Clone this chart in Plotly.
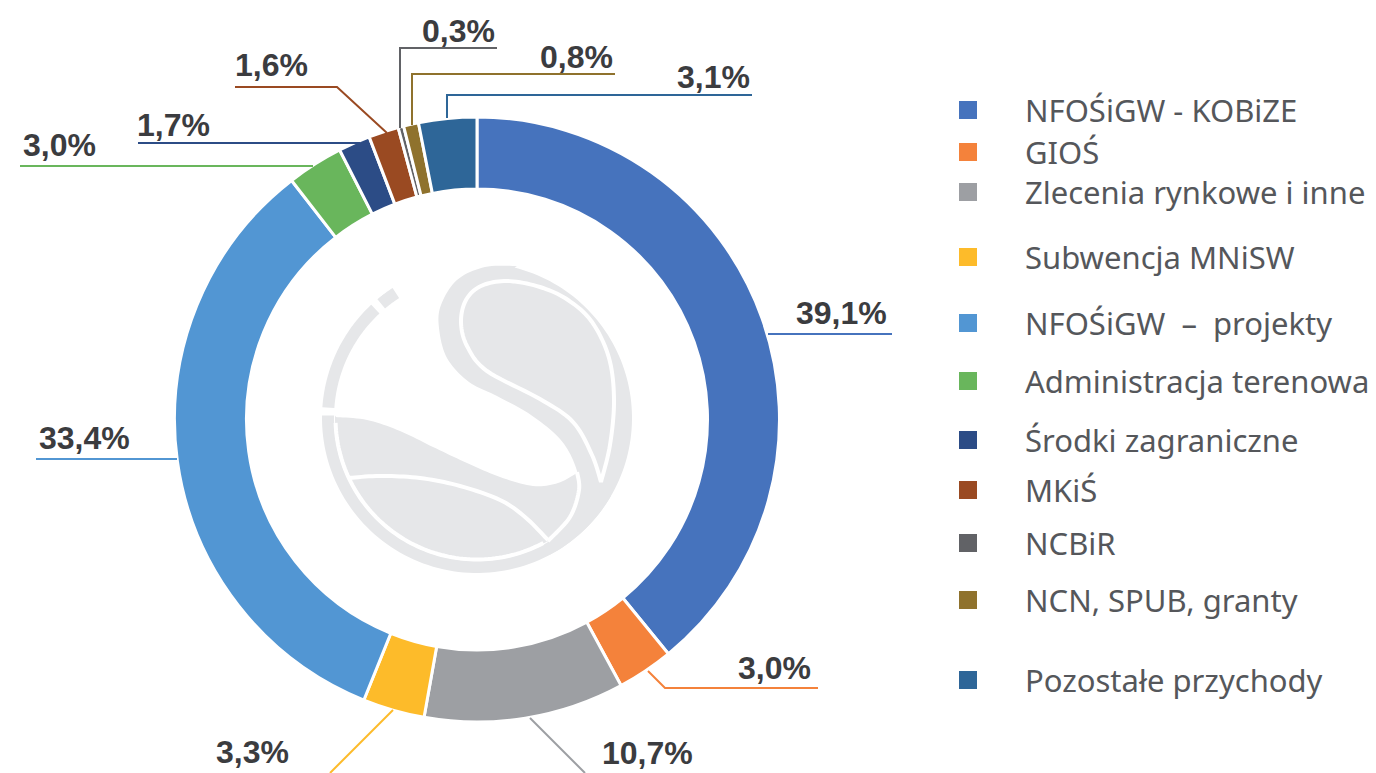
import numpy as np
import plotly.graph_objects as go

# ---------------- data ----------------
labels = ["NFOŚiGW - KOBiZE", "GIOŚ", "Zlecenia rynkowe i inne", "Subwencja MNiSW",
          "NFOŚiGW\u00a0\u00a0–\u00a0\u00a0projekty", "Administracja terenowa", "Środki zagraniczne",
          "MKiŚ", "NCBiR", "NCN, SPUB, granty", "Pozostałe przychody"]
values = [39.1, 3.0, 10.7, 3.3, 33.4, 3.0, 1.7, 1.6, 0.3, 0.8, 3.1]
colors = ["#4673BD", "#F4823B", "#9D9FA3", "#FDBB2A", "#5296D3", "#69B65C",
          "#2C4C86", "#9A4A22", "#616266", "#8F722D", "#2E6698"]

# ---------------- layout helpers (pixel positions) ----------------
W, H = 1376, 773
legend_y = [110, 152, 192, 257, 323, 381, 440, 490, 543, 600, 680]
# label anchor: (x, y, xanchor)
label_pos = [(889, 313, "right"), (813, 668, "right"), (600, 753, "left"), (214, 752, "left"),
             (37, 438, "left"), (21, 145, "left"), (135, 125, "left"), (233, 65, "left"),
             (497, 31, "right"), (615, 57, "right"), (752, 77, "right")]
leaders = [
    [(768, 334), (892, 334)],
    [(648, 671), (665, 688), (818, 688)],
    [(530, 718), (585, 773)],
    [(393, 710), (330, 773)],
    [(177, 459), (36, 459)],
    [(313, 166), (20, 166)],
    [(360, 143), (138, 143)],
    [(387, 133), (337, 87), (235, 87)],
    [(400, 128), (400, 48), (497, 48)],
    [(412, 125), (412, 74), (615, 74)],
    [(447, 118), (447, 95), (752, 95)],
]


def px(x, y):
    return f"{x / W:.5f},{1 - y / H:.5f}"


def path(pts, close=False):
    s = "M " + " L ".join(px(x, y) for x, y in pts)
    return s + (" Z" if close else "")


def smooth(pts, n=10):
    out = []
    for i in range(len(pts) - 1):
        p0 = np.array(pts[max(i - 1, 0)], float)
        p1 = np.array(pts[i], float)
        p2 = np.array(pts[i + 1], float)
        p3 = np.array(pts[min(i + 2, len(pts) - 1)], float)
        for k in range(n):
            t = k / n
            q = 0.5 * ((2 * p1) + (-p0 + p2) * t + (2 * p0 - 5 * p1 + 4 * p2 - p3) * t ** 2
                       + (-p0 + 3 * p1 - 3 * p2 + p3) * t ** 3)
            out.append(tuple(q))
    out.append(tuple(pts[-1]))
    return out


CX, CY = 477, 418


def arc(r, a0, a1, n=80):
    a = np.radians(np.linspace(a0, a1, n))
    return [(CX + r * np.cos(t), CY - r * np.sin(t)) for t in a]


LOGO = "#E6E7E9"
shapes = []

# ---- watermark logo ----
lobe_left = smooth([(517, 266), (485, 267), (457, 280), (441, 305), (439, 328), (447, 358),
                    (469, 382), (497, 396), (531, 415), (560, 439), (575, 465), (579, 490),
                    (570, 517), (551, 538)])
lobe = arc(155, -62, 76) + lobe_left
shapes.append(dict(type="path", xref="paper", yref="paper", path=path(lobe, True),
                   fillcolor=LOGO, line=dict(width=0), layer="above"))

wave_top = smooth([(336, 417), (367, 420), (400, 431), (433, 447), (467, 463), (500, 477),
                   (533, 486), (558, 483), (577, 473)])
wave_edge = smooth([(577, 473), (579, 490), (570, 517), (551, 538)])
wave = wave_top + wave_edge + arc(142, -57, -181)
shapes.append(dict(type="path", xref="paper", yref="paper", path=path(wave, True),
                   fillcolor=LOGO, line=dict(width=0), layer="above"))

for a0, a1 in [(133, 176), (179, 330), (123, 130)]:
    shapes.append(dict(type="path", xref="paper", yref="paper", path=path(arc(149, a0, a1)),
                       line=dict(color=LOGO, width=12), layer="above"))

loop = smooth([(601, 482), (610, 445), (614, 400), (609, 358), (592, 322), (568, 300),
               (540, 287), (507, 281), (481, 286), (466, 300), (461, 322), (467, 346),
               (487, 371), (540, 399), (573, 422), (592, 455), (601, 482)])
white_lines = [
    loop,
    smooth([(577, 472), (579, 490), (570, 517), (548, 541)]),
    smooth([(348, 478), (380, 476), (420, 478), (460, 486), (500, 500), (525, 517), (548, 540)]),
    arc(141.5, 182, 298),
]
for wl in white_lines:
    shapes.append(dict(type="path", xref="paper", yref="paper", path=path(wl),
                       line=dict(color="white", width=4), layer="above"))

# ---- leader lines ----
for pts, c in zip(leaders, colors):
    shapes.append(dict(type="path", xref="paper", yref="paper", path=path(pts),
                       line=dict(color=c, width=2), layer="above"))

# ---- legend markers ----
for y, c in zip(legend_y, colors):
    shapes.append(dict(type="rect", xref="paper", yref="paper",
                       x0=959 / W, x1=977 / W, y0=1 - (y + 9) / H, y1=1 - (y - 9) / H,
                       fillcolor=c, line=dict(width=0), layer="above"))

annotations = []
for v, (x, y, xa) in zip(values, label_pos):
    annotations.append(dict(x=x / W, y=1 - y / H, xref="paper", yref="paper",
                            text="<b>" + f"{v:.1f}".replace(".", ",") + "%</b>",
                            showarrow=False, xanchor=xa, yanchor="middle",
                            font=dict(family="Liberation Sans, Arial, sans-serif", size=32,
                                      color="#3B3C3F")))
for lab, y in zip(labels, legend_y):
    annotations.append(dict(x=1023 / W, y=1 - y / H, xref="paper", yref="paper", text=lab,
                            showarrow=False, xanchor="left", yanchor="middle",
                            font=dict(family="Noto Sans, sans-serif", size=31, color="#55575B")))

fig = go.Figure(go.Pie(
    labels=labels, values=values, sort=False, direction="clockwise", rotation=0,
    hole=0.762, textinfo="none", marker=dict(colors=colors, line=dict(color="white", width=3)),
    domain=dict(x=[174.5 / W, 779.5 / W], y=[1 - 722 / H, 1 - 117 / H]),
    showlegend=False, hoverinfo="label+percent"))

fig.update_layout(width=W, height=H, margin=dict(l=0, r=0, t=0, b=0),
                  paper_bgcolor="white", plot_bgcolor="white",
                  shapes=shapes, annotations=annotations, showlegend=False)

fig.write_html("out.html", config={"displayModeBar": False},
               post_script="document.body.style.margin='0';document.body.style.overflow='hidden';")
